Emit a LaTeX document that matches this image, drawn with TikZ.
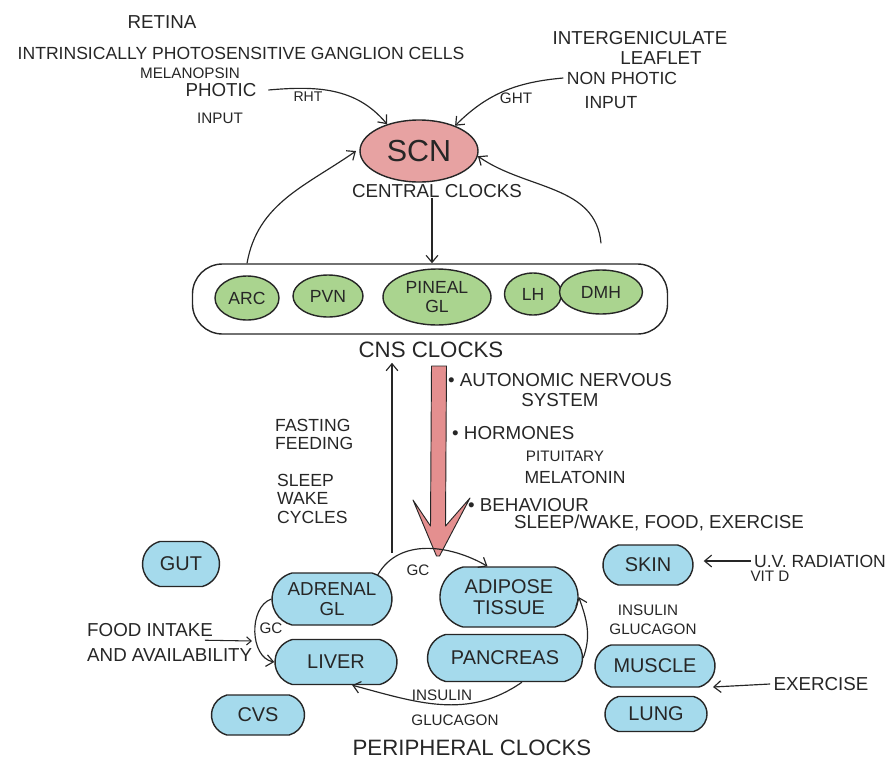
\documentclass[tikz,border=0pt]{standalone}
\usepackage{fontspec}
\setmainfont{Liberation Sans}
\usetikzlibrary{shapes.geometric,shapes.misc,arrows.meta,calc}
\definecolor{inkc}{HTML}{262626}
\definecolor{scnred}{HTML}{E7A2A2}
\definecolor{grn}{HTML}{AAD48F}
\definecolor{blu}{HTML}{A5DAEC}
\definecolor{redarr}{HTML}{E48F8F}
\begin{document}
\begin{tikzpicture}[x=0.3mm,y=0.3mm,
  t/.style={inner sep=0pt, text=inkc, align=center},
  fa/.style={font=\fontsize{12}{14}\selectfont},
  fb/.style={font=\fontsize{13}{15}\selectfont},
  fc/.style={font=\fontsize{15}{17}\selectfont},
  fd/.style={font=\fontsize{16}{18}\selectfont},
  fe/.style={font=\fontsize{19}{21}\selectfont},
  oval/.style={ellipse, draw=inkc, line width=1.2pt, inner xsep=-3pt, inner ysep=-1pt, align=center, text=inkc},
  gr/.style={oval, fill=grn, font=\fontsize{15}{16}\selectfont},
  bl/.style={rounded rectangle, rounded rectangle arc length=150, draw=inkc, line width=1.2pt, inner sep=0pt,
             align=center, text=inkc, fill=blu, font=\fontsize{17}{18}\selectfont},
  arr/.style={draw=inkc, line width=1pt, -{Straight Barb[length=6pt,width=10pt]}},
  arrs/.style={draw=inkc, line width=0.9pt, -{Straight Barb[length=4pt,width=7pt]}}
]
\useasboundingbox (0,0) rectangle (895,-765);

% ---------- top inputs ----------
\node[t,fd] (retina) at (162,-22) {RETINA};
\node[t,fc] (ipgc) at (241,-53) {INTRINSICALLY PHOTOSENSITIVE GANGLION CELLS};
\node[t,fb] (melan) at (190,-73) {MELANOPSIN};
\node[t,fd] (photic) at (221,-90) {PHOTIC};
\node[t,fb] (inputl) at (220,-118) {INPUT};
\node[t,fa] (rht) at (308,-97) {RHT};
\node[t,fd] (igl) at (640,-38) {INTERGENICULATE};
\node[t,fd] (leaflet) at (661,-58) {LEAFLET};
\node[t,fc] (nonph) at (622,-78) {NON PHOTIC};
\node[t,fc] (inputr) at (611,-103) {INPUT};
\node[t,fb] (ght) at (516,-98) {GHT};

% ---------- SCN ----------
\node[oval, fill=scnred, minimum width=35.4mm, minimum height=18.6mm,
      font=\fontsize{26}{26}\selectfont] (scn) at (419,-151) {SCN};
\node[t,fd] (central) at (437,-191) {CENTRAL CLOCKS};

% ---------- CNS clocks ----------
\node[draw=inkc, line width=1.2pt, rounded corners=9mm, minimum width=142.5mm,
      minimum height=21mm, inner sep=0pt] (cnsbox) at (430,-299) {};
\node[gr, minimum width=19.2mm, minimum height=13.2mm] (arc) at (247,-298) {ARC};
\node[gr, minimum width=21mm, minimum height=12.6mm] (pvn) at (328,-296) {PVN};
\node[gr, minimum width=32.4mm, minimum height=16.8mm] (pineal) at (437,-297) {PINEAL\\GL};
\node[gr, minimum width=17.1mm, minimum height=12.6mm] (lh) at (533,-294) {LH};
\node[gr, minimum width=24.9mm, minimum height=13.2mm] (dmh) at (601,-292) {DMH};
\node[t,fe] (cnslbl) at (431,-350) {CNS CLOCKS};

% ---------- middle labels ----------
\node[t,fd,anchor=west] (ans) at (448,-380) {• AUTONOMIC NERVOUS};
\node[t,fd] (system) at (560,-400) {SYSTEM};
\node[t,fd,anchor=west] (horm) at (452,-433) {• HORMONES};
\node[t,fb] (pit) at (565,-456) {PITUITARY};
\node[t,fc] (mel) at (575,-477) {MELATONIN};
\node[t,fd,anchor=west] (behav) at (468,-505) {• BEHAVIOUR};
\node[t,fd] (swfe) at (659,-523) {SLEEP/WAKE, FOOD, EXERCISE};

\node[t,fc,anchor=west] (fasting) at (275,-425) {FASTING};
\node[t,fc,anchor=west] (feeding) at (275,-443) {FEEDING};
\node[t,fc,anchor=west] (sleep) at (277,-480) {SLEEP};
\node[t,fc,anchor=west] (wake) at (277,-498) {WAKE};
\node[t,fc,anchor=west] (cycles) at (277,-517) {CYCLES};

% ---------- peripheral clocks ----------
\node[bl, minimum width=23.1mm, minimum height=13.5mm] (gut) at (181,-564) {GUT};
\node[bl, minimum width=36mm, minimum height=15.6mm, font=\fontsize{16}{17}\selectfont] (adrenal) at (332,-599) {ADRENAL\\GL};
\node[bl, minimum width=36.6mm, minimum height=13.5mm] (liver) at (336,-662) {LIVER};
\node[bl, minimum width=27.9mm, minimum height=12mm] (cvs) at (258,-715) {CVS};
\node[bl, minimum width=41.4mm, minimum height=18mm] (adipose) at (509,-597) {ADIPOSE\\TISSUE};
\node[bl, minimum width=46.5mm, minimum height=14.1mm] (pancreas) at (505,-658) {PANCREAS};
\node[bl, minimum width=27mm, minimum height=12mm] (skin) at (648,-565) {SKIN};
\node[bl, minimum width=36mm, minimum height=12.6mm] (muscle) at (655,-666) {MUSCLE};
\node[bl, minimum width=30.6mm, minimum height=10.5mm] (lung) at (656,-714) {LUNG};

\node[t,fb] (gctop) at (418,-570) {GC};
\node[t,fb] (gcleft) at (271,-628) {GC};
\node[t,fd,anchor=west] (fooda) at (87,-630) {FOOD INTAKE};
\node[t,fd,anchor=west] (foodb) at (87,-655) {AND AVAILABILITY};
\node[t,fb] (insr) at (648,-610) {INSULIN};
\node[t,fb] (glur) at (653,-629) {GLUCAGON};
\node[t,fb] (insb) at (442,-695) {INSULIN};
\node[t,fb] (glub) at (455,-720) {GLUCAGON};
\node[t,fc] (uv) at (820,-561) {U.V. RADIATION};
\node[t,fb] (vitd) at (770,-576) {VIT D};
\node[t,fd] (exer) at (821,-684) {EXERCISE};
\node[t,fe] (perlbl) at (472,-748) {PERIPHERAL CLOCKS};

% ---------- connectors ----------
\draw[arr] ([xshift=3.5mm]photic.east) to[out=5,in=130] (scn.140);
\draw[arr] ([xshift=-1mm]nonph.west) to[out=185,in=45] (scn.35);
\draw[arr] ([xshift=-1.5mm]central.south) -- ([xshift=-1.5mm]central.south |- cnsbox.north);
\draw[arr] (cnsbox.north -| arc.north) to[out=80,in=215] ([xshift=-1mm]scn.west);
\draw[arr] ([yshift=6mm]cnsbox.north -| dmh.north) to[out=95,in=-35] (scn.-5);

\coordinate (upbot) at (392,-553);
\draw[arr, shorten >=4pt] (upbot) -- (upbot |- cnslbl.south);

\coordinate (rtop) at (439,-366);
\coordinate (rtip) at (438,-556);
\filldraw[fill=redarr, draw=inkc, line width=0.8pt, line join=round]
  ($(rtop)+(-7.5,0)$) -- ($(rtip)+(-7.5,30)$) -- ($(rtip)+(-25,56)$) --
  ($(rtip)+(-1.5,0)$) -- ($(rtip)+(1.5,0)$) -- ($(rtip)+(32,58)$) --
  ($(rtip)+(7.5,30)$) -- ($(rtop)+(7.5,0)$) -- cycle;

\draw[arr] (adrenal.28) to[out=60,in=150] (adipose.125);
\draw[arr] (adrenal.west) to[out=200,in=170] (liver.west);
\coordinate (fa) at (252,-641);
\draw[arrs] ([xshift=-2.5mm,yshift=-1mm]fooda.south east) -- (fa);
\draw[arr] (pancreas.east) to[out=70,in=-70] (adipose.east);
\draw[arr] (pancreas.-55) to[out=-145,in=-15] (liver.-55);
\draw[arr, shorten >=3mm] ([xshift=-1mm]uv.west) -- (uv.west -| skin.east);
\coordinate (exc) at (713,-687);
\draw[arr] ([xshift=-1mm]exer.west) -- (exc);
\end{tikzpicture}
\end{document}
